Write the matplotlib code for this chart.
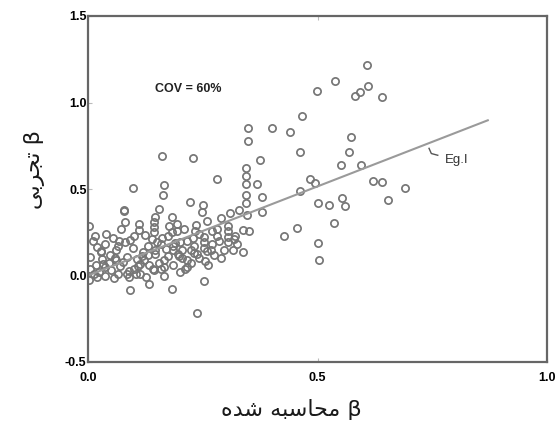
import matplotlib
matplotlib.use("Agg")
import matplotlib.pyplot as plt
import numpy as np

# Calculated beta (x) and experimental beta (y)
beta_calc = [
    0.608, 0.539, 0.499, 0.581, 0.593, 0.610, 0.641, 0.466, 0.400, 0.439,
    0.572, 0.461, 0.568, 0.552, 0.595, 0.483, 0.495, 0.462, 0.622, 0.641,
    0.691, 0.500, 0.526, 0.553, 0.561, 0.654, 0.535, 0.428, 0.455, 0.500,
    0.504,
    0.375, 0.349, 0.349, 0.344, 0.344, 0.344, 0.344, 0.344, 0.369, 0.378,
    0.378, 0.309, 0.330, 0.347, 0.282, 0.222, 0.251, 0.249, 0.162, 0.229,
    0.097, 0.166, 0.164, 0.079, 0.154, 0.183, 0.145,
    0.002, 0.015, 0.078, 0.081, 0.055, 0.068, 0.081, 0.028, 0.061, 0.071,
    0.112, 0.112, 0.144, 0.144, 0.144, 0.193, 0.193, 0.260, 0.280, 0.280,
    0.304, 0.304, 0.304, 0.304, 0.338, 0.351, 0.325, 0.337, 0.296, 0.267,
    0.253, 0.253, 0.242, 0.229, 0.215, 0.204, 0.186, 0.186, 0.171, 0.159,
    0.147, 0.147, 0.131, 0.120, 0.131, 0.099, 0.084, 0.077, 0.106, 0.113,
    0.123, 0.132, 0.141, 0.166, 0.166, 0.166, 0.144, 0.133, 0.113, 0.127,
    0.090, 0.090, 0.091, 0.182, 0.215, 0.215, 0.238, 0.242, 0.255, 0.253,
    0.238, 0.004, 0.004, 0.003, 0.018, 0.025, 0.038, 0.038, 0.046, 0.050,
    0.056, 0.065, 0.030, 0.048, 0.058, 0.020, 0.012, 0.070, 0.100, 0.105,
    0.118, 0.155, 0.160, 0.175, 0.185, 0.195, 0.200, 0.205, 0.225, 0.230,
    0.225, 0.260, 0.270, 0.275, 0.285, 0.290, 0.315, 0.320, 0.190, 0.175,
    0.210, 0.270, 0.235, 0.140, 0.125, 0.100, 0.092, 0.038, 0.020, 0.010,
    0.040, 0.028, 0.066, 0.232, 0.252, 0.183, 0.200, 0.234, 0.198, 0.162,
    0.110, 0.060, 0.033, 0.085, 0.150, 0.176, 0.318, 0.290, 0.262, 0.212,
]
beta_exp = [
    1.218, 1.125, 1.065, 1.035, 1.060, 1.094, 1.029, 0.923, 0.855, 0.832,
    0.798, 0.711, 0.711, 0.640, 0.640, 0.555, 0.534, 0.486, 0.549, 0.539,
    0.507, 0.420, 0.406, 0.447, 0.401, 0.438, 0.304, 0.229, 0.276, 0.187,
    0.087,
    0.665, 0.852, 0.775, 0.622, 0.578, 0.530, 0.466, 0.418, 0.530, 0.451,
    0.366, 0.364, 0.376, 0.347, 0.559, 0.422, 0.409, 0.368, 0.688, 0.680,
    0.507, 0.524, 0.468, 0.380, 0.385, 0.341, 0.337,
    0.289, 0.227, 0.372, 0.308, 0.216, 0.202, 0.195, 0.135, 0.145, 0.270,
    0.299, 0.264, 0.312, 0.283, 0.254, 0.295, 0.256, 0.314, 0.270, 0.231,
    0.289, 0.256, 0.225, 0.193, 0.264, 0.256, 0.183, 0.135, 0.145, 0.150,
    0.221, 0.193, 0.241, 0.218, 0.202, 0.145, 0.173, 0.145, 0.154, 0.183,
    0.148, 0.125, 0.168, 0.135, 0.116, 0.158, 0.106, 0.077, 0.098, 0.069,
    0.089, 0.063, 0.040, 0.091, 0.052, 0.000, 0.029, -0.048, 0.006, -0.010,
    0.025, -0.006, -0.083, -0.077, 0.087, 0.048, 0.125, 0.102, 0.083, -0.033,
    -0.218, 0.106, 0.039, -0.025, 0.060, 0.020, 0.050, 0.000, 0.075, 0.030,
    -0.015, 0.010, 0.098, 0.120, 0.100, -0.010, 0.010, 0.055, 0.040, 0.010,
    0.110, 0.070, 0.035, 0.110, 0.060, 0.125, 0.020, 0.100, 0.150, 0.170,
    0.075, 0.140, 0.180, 0.120, 0.200, 0.100, 0.150, 0.230, 0.190, 0.230,
    0.270, 0.260, 0.290, 0.210, 0.235, 0.230, 0.205, 0.180, 0.165, 0.200,
    0.240, 0.140, 0.170, 0.130, 0.160, 0.250, 0.195, 0.260, 0.110, 0.215,
    0.055, 0.090, 0.065, 0.010, 0.195, 0.285, 0.210, 0.330, 0.060, 0.035,
]

fit_x = [0.0, 0.871]
fit_slope = 1.03

x_ticks = [0.0, 0.5, 1.0]
y_ticks = [-0.5, 0.0, 0.5, 1.0, 1.5]

fig = plt.figure(figsize=(5.58, 4.30), dpi=100)
ax = fig.add_axes([88/558, 68/430, (547-88)/558, (362-16)/430])

ax.plot(beta_calc, beta_exp, linestyle="none", marker="o", markersize=5.2,
        markerfacecolor="none", markeredgecolor="#767676", markeredgewidth=1.25)

fx = np.array(fit_x)
ax.plot(fx, fit_slope * fx, color="#9a9a9a", linewidth=1.5)

# leader for Eg.I
ax.plot([0.743, 0.748, 0.762], [0.735, 0.705, 0.695], color="#555555", linewidth=1.0)
ax.text(0.778, 0.665, "Eg.I", fontsize=9.5, family="Liberation Sans",
        color="#333333", va="center", ha="left")

ax.text(0.146, 1.08, "COV = 60%", fontsize=9, family="Liberation Sans",
        fontweight="bold", color="#222222", va="center", ha="left")

ax.set_xlim(0.0, 1.0)
ax.set_ylim(-0.5, 1.5)
ax.set_xticks(x_ticks)
ax.set_yticks(y_ticks)
ax.set_xticklabels([f"{v:.1f}" for v in x_ticks], fontsize=9, fontweight="bold",
                   family="Liberation Sans")
ax.set_yticklabels([f"{v:.1f}" for v in y_ticks], fontsize=9, fontweight="bold",
                   family="Liberation Sans")
ax.tick_params(axis="both", direction="in", length=3, width=0.8, color="#bbbbbb",
               top=True)
ax.tick_params(axis="x", pad=7)
ax.tick_params(axis="y", pad=1)

for s in ax.spines.values():
    s.set_color("#666666")
    s.set_linewidth(1.6)

# Persian labels (presentation forms, visual order)
xlab = "\uFEE9\uFEAA\uFEB7 \uFEEA\uFE92\uFEB3\uFE8E\uFEA4\uFEE3 \u03B2"
ylab = "\uFEF0\uFE91\uFEAE\uFEA0\uFE97 \u03B2"
ax.set_xlabel(xlab, fontsize=16, family="DejaVu Sans", color="#1a1a1a")
ax.set_ylabel(ylab, fontsize=16, family="DejaVu Sans", color="#1a1a1a")
ax.xaxis.set_label_coords(0.444, -0.108)
ax.yaxis.set_label_coords(-0.094, 0.555)

fig.savefig("out.png", dpi=100, facecolor="white")
